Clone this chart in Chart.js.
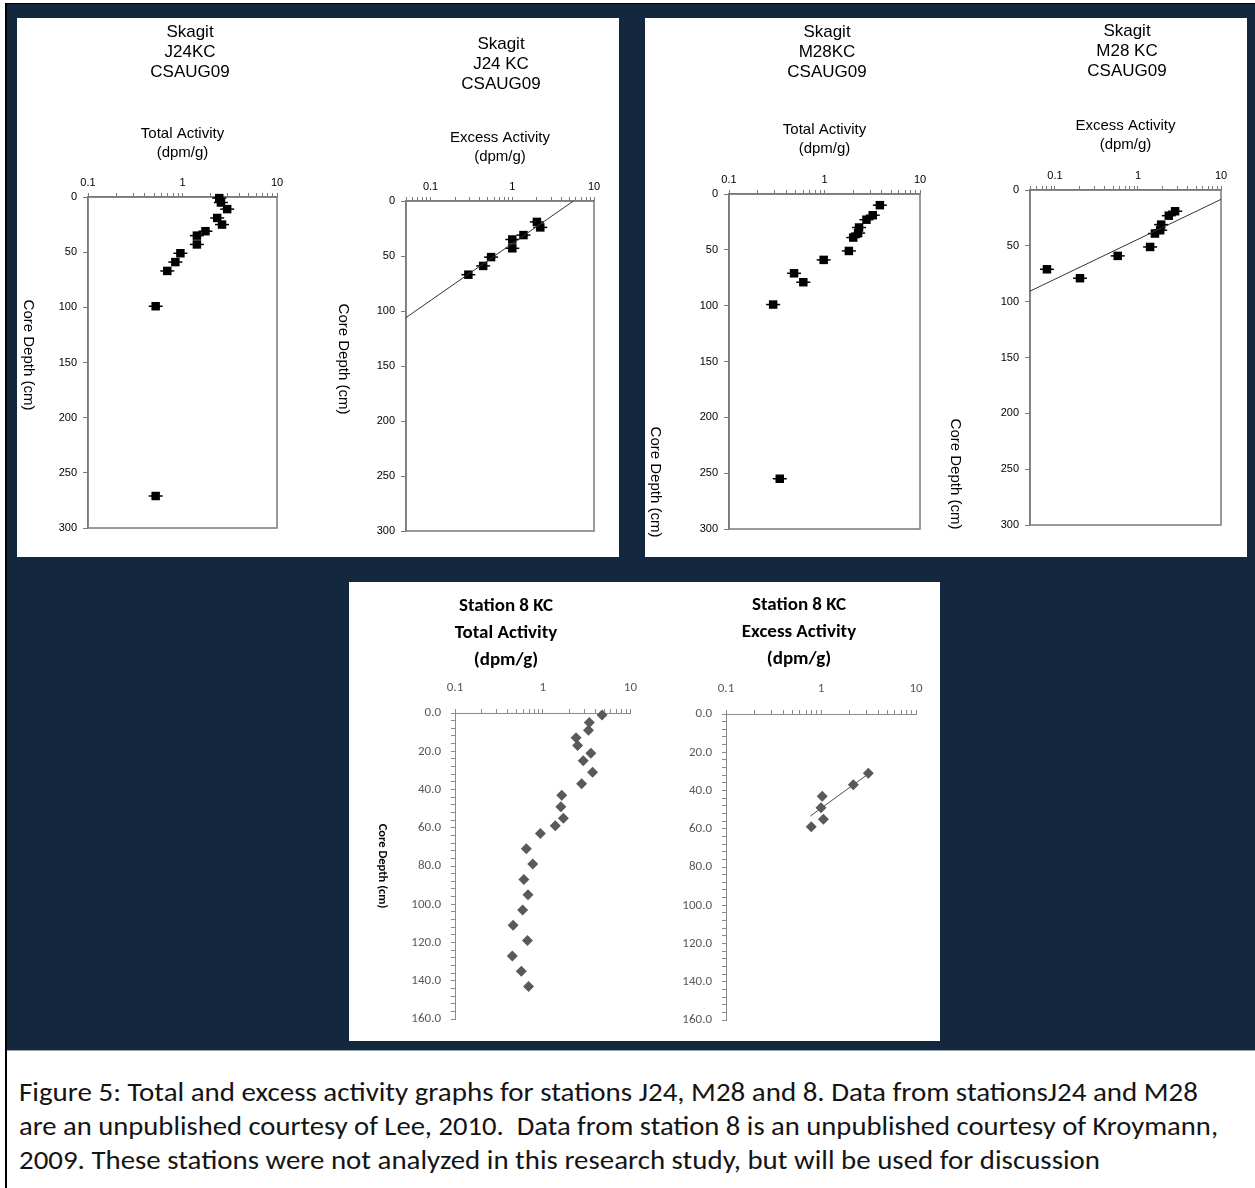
<!DOCTYPE html>
<html>
<head>
<meta charset="utf-8">
<title>Figure 5</title>
<script src="https://cdn.jsdelivr.net/npm/chart.js@4.4.1/dist/chart.umd.min.js"></script>
<style>
  body { margin: 0; width: 1255px; height: 1188px; position: relative; background: #fff; overflow: hidden; }
  .abs { position: absolute; }
  #navy { left: 7px; top: 4px; width: 1248px; height: 1046px; background: #13273f; }
  #topline { left: 5px; top: 3px; width: 1250px; height: 1px; background: #000; }
  #leftline { left: 5px; top: 3px; width: 2px; height: 1185px; background: #000; }
  #navyedge { left: 7px; top: 1050px; width: 1248px; height: 1px; background: #9aa3ad; }
  .panel { background: #fff; }
  canvas { position: absolute; }
  #caption { left: 19px; top: 1075px; font-family: Carlito, Lato, sans-serif; font-size: 26px; line-height: 34px;
             color: #141414; white-space: nowrap; }
  #caption span { display: inline-block; transform-origin: 0 0; }
</style>
</head>
<body>
<div id="navy" class="abs"></div>
<div id="navyedge" class="abs"></div>
<div id="topline" class="abs"></div>
<div id="leftline" class="abs"></div>
<div class="abs panel" style="left:17px;top:18px;width:602px;height:539px"></div>
<div class="abs panel" style="left:645px;top:18px;width:602px;height:539px"></div>
<div class="abs panel" style="left:349px;top:582px;width:591px;height:459px"></div>

<canvas id="c1" width="300" height="539" style="left:17px;top:18px"></canvas>
<canvas id="c2" width="302" height="539" style="left:317px;top:18px"></canvas>
<canvas id="c3" width="300" height="539" style="left:645px;top:18px"></canvas>
<canvas id="c4" width="302" height="539" style="left:945px;top:18px"></canvas>
<canvas id="c5" width="301" height="458" style="left:349px;top:582px"></canvas>
<canvas id="c6" width="289" height="458" style="left:650px;top:582px"></canvas>

<div id="caption" class="abs">
  <span data-w="1179">Figure 5: Total and excess activity graphs for stations J24, M28 and 8. Data from stationsJ24 and M28</span><br>
  <span data-w="1199">are an unpublished courtesy of Lee, 2010.&nbsp; Data from station 8 is an unpublished courtesy of Kroymann,</span><br>
  <span data-w="1081">2009. These stations were not analyzed in this research study, but will be used for discussion</span>
</div>

<script>
// ---- data ----
// log axis tick positions (only decades get a label)
const logTickValues = [0.05, 0.06, 0.07, 0.08, 0.09, 0.1, 0.2, 0.3, 0.4, 0.5, 0.6, 0.7, 0.8, 0.9,
                       1, 2, 3, 4, 5, 6, 7, 8, 9, 10];
const decadeLabels = { 0.1: '0.1', 1: '1', 10: '10' };

// Skagit J24KC
const j24TotalActivity = [2.45, 2.55, 2.97, 2.33, 2.62, 1.75, 1.42, 1.42, 0.95, 0.84, 0.69, 0.52, 0.52];
const j24TotalDepth    = [1, 5, 11, 19, 25, 31, 35, 43, 51, 59, 67, 99, 271];
const j24ExcessActivity = [2.0, 2.2, 1.37, 1.0, 1.0, 0.55, 0.44, 0.29];
const j24ExcessDepth    = [19, 24, 31, 35, 43, 51, 59, 67];
const j24TrendActivity = [5.6, 0.05];
const j24TrendDepth    = [0, 106];

// Skagit M28KC
const m28TotalActivity = [3.8, 3.2, 2.75, 2.3, 2.25, 2.0, 1.8, 0.98, 0.48, 0.6, 0.29, 0.34];
const m28TotalDepth    = [10, 19, 23, 30, 35, 39, 51, 59, 71, 79, 99, 255];
const m28ExcessActivity = [2.8, 2.35, 1.9, 1.85, 1.6, 1.4, 0.57, 0.08, 0.2];
const m28ExcessDepth    = [19, 23, 31, 36, 39, 51, 59, 71, 79];
const m28TrendActivity = [0.05, 10];
const m28TrendDepth    = [90.6, 8.4];

// Station 8 KC
const st8TotalDepth    = [1, 5, 9, 13, 17, 21, 25, 31, 37, 43, 49, 55, 59, 63, 71, 79, 87, 95, 103, 111, 119, 127, 135, 143];
const st8TotalActivity = [4.75, 3.4, 3.33, 2.4, 2.5, 3.54, 2.9, 3.7, 2.78, 1.65, 1.61, 1.72, 1.39, 0.94,
                          0.65, 0.77, 0.61, 0.68, 0.59, 0.46, 0.67, 0.45, 0.57, 0.69];
const st8ExcessDepth    = [31, 37, 43, 49, 55, 59];
const st8ExcessActivity = [3.15, 2.19, 1.03, 1.0, 1.06, 0.79];
const st8TrendActivity = [0.77, 3.15];
const st8TrendDepth    = [53.4, 31.3];

// ---- styling ----
const SK_FONT = "'Liberation Sans', Arial, sans-serif";
const CAL_FONT = "Carlito, Lato, sans-serif";
const SK_LINE = '#7a7a7a';
const ST_LINE = '#8a8a8a';
const ST_MARK = '#595959';

function pts(xs, ys) {
  return xs.map((x, i) => ({ x: x, y: ys[i] }));
}

/* heading + rotated y title, drawn on the chart canvas */
function textPlugin(spec) {
  return {
    id: 'panelText',
    afterDraw(chart) {
      const ctx = chart.ctx;
      ctx.save();
      ctx.fillStyle = '#000';
      ctx.textAlign = 'center';
      ctx.textBaseline = 'middle';
      ctx.font = spec.headFont;
      spec.head.forEach((line, i) => ctx.fillText(line, spec.headX, spec.headY + i * spec.headStep));
      if (spec.yTitle) {
        ctx.translate(spec.yX, spec.yY);
        ctx.rotate(Math.PI / 2);
        ctx.font = spec.yFont;
        ctx.fillText(spec.yTitle, 0, 0);
      }
      ctx.restore();
    }
  };
}

/* plot frame for the Skagit charts */
const framePlugin = {
  id: 'frame',
  beforeDatasetsDraw(chart) {
    const { ctx, chartArea: a } = chart;
    ctx.save();
    ctx.strokeStyle = SK_LINE;
    ctx.lineWidth = 1.5;
    ctx.strokeRect(a.left, a.top, a.right - a.left, a.bottom - a.top);
    ctx.restore();
  }
};

function logAxis(o) {
  return {
    type: 'logarithmic', position: 'top', min: o.min, max: 10,
    afterBuildTicks: s => {
      s.ticks = logTickValues.filter(v => v >= s.min * 0.999 && v <= s.max * 1.001)
        .map(v => ({ value: v, major: v in decadeLabels }));
    },
    afterFit: s => { s.height = o.height; },
    ticks: { autoSkip: false, maxRotation: 0, minRotation: 0, padding: o.tickPad,
             color: o.tickColor, font: o.tickFont, callback: v => decadeLabels[v] || '' },
    grid: { drawOnChartArea: false, drawTicks: true, tickLength: 4, color: o.lineColor, lineWidth: 1 },
    border: { display: true, color: o.lineColor, width: o.lineWidth },
    title: o.title
      ? { display: true, text: o.title, color: '#000', font: { family: SK_FONT, size: 15, lineHeight: 1.27 },
          padding: { top: o.titlePad, bottom: 0 } }
      : { display: false }
  };
}

function depthAxis(o) {
  return {
    type: 'linear', reverse: true, min: 0, max: o.max,
    afterFit: s => { s.width = o.width; },
    ticks: { stepSize: o.step, autoSkip: false, padding: o.tickPad, color: o.tickColor,
             font: o.tickFont, callback: o.callback },
    grid: { drawOnChartArea: false, tickLength: o.tickLen, color: o.lineColor },
    border: { display: true, color: o.lineColor, width: o.lineWidth }
  };
}

function skagitChart(id, g, sets, trend) {
  const datasets = [
    { data: sets, pointStyle: 'line', pointRadius: 7, borderColor: '#000', borderWidth: 1.5, clip: false },
    { data: sets, pointStyle: 'rect', pointRadius: 6, backgroundColor: '#000', borderColor: '#000', borderWidth: 0, clip: false }
  ];
  if (trend) {
    datasets.unshift({ data: trend, showLine: true, pointRadius: 0, borderColor: '#333', borderWidth: 1 });
  }
  return new Chart(document.getElementById(id), {
    type: 'scatter',
    data: { datasets: datasets },
    options: {
      responsive: false, animation: false, devicePixelRatio: 1,
      layout: { padding: { left: 0, top: 0, right: g.padR, bottom: g.padB } },
      plugins: { legend: { display: false }, tooltip: { enabled: false } },
      scales: {
        x: logAxis({ min: g.xmin, height: g.top, tickPad: 3, tickColor: '#000',
                     tickFont: { family: SK_FONT, size: 11 }, lineColor: SK_LINE, lineWidth: 1.5,
                     title: g.xTitle, titlePad: g.xTitlePad }),
        y: depthAxis({ max: 300, step: 50, width: g.left, tickPad: 6, tickLen: 5, tickColor: '#000',
                       tickFont: { family: SK_FONT, size: 11 }, lineColor: SK_LINE, lineWidth: 1.5,
                       callback: v => String(v) })
      }
    },
    plugins: [framePlugin, textPlugin({
      head: g.head, headFont: '17px ' + SK_FONT, headX: g.headX, headY: g.headY, headStep: 20,
      yTitle: 'Core Depth (cm)', yFont: '15px ' + SK_FONT, yX: g.yX, yY: g.yY
    })]
  });
}

function stationChart(id, g, sets, trend) {
  const datasets = [
    { data: sets, pointStyle: 'rectRot', pointRadius: 5.5, backgroundColor: ST_MARK, borderColor: ST_MARK, borderWidth: 0, clip: false }
  ];
  if (trend) {
    datasets.push({ data: trend, showLine: true, pointRadius: 0, borderColor: '#4d4d4d', borderWidth: 1 });
  }
  return new Chart(document.getElementById(id), {
    type: 'scatter',
    data: { datasets: datasets },
    options: {
      responsive: false, animation: false, devicePixelRatio: 1,
      layout: { padding: { left: 0, top: 0, right: g.padR, bottom: g.padB } },
      plugins: { legend: { display: false }, tooltip: { enabled: false } },
      scales: {
        x: logAxis({ min: 0.1, height: g.top, tickPad: 13, tickColor: ST_MARK,
                     tickFont: { family: CAL_FONT, size: 13 }, lineColor: ST_LINE, lineWidth: 1 }),
        y: depthAxis({ max: 160, step: 4, width: g.left, tickPad: 10, tickLen: 4, tickColor: ST_MARK,
                       tickFont: { family: CAL_FONT, size: 13 }, lineColor: ST_LINE, lineWidth: 1,
                       callback: v => (v % 20 === 0 ? v.toFixed(1) : '') })
      }
    },
    plugins: [textPlugin({
      head: g.head, headFont: 'bold 19px ' + CAL_FONT, headX: g.headX, headY: g.headY, headStep: 27,
      yTitle: g.yTitle, yFont: 'bold 12.5px ' + CAL_FONT, yX: g.yX, yY: g.yY
    })]
  });
}

skagitChart('c1', { left: 71, top: 179, padR: 40, padB: 29, xmin: 0.1,
  xTitle: ['Total Activity', '(dpm/g)'], xTitlePad: 106,
  head: ['Skagit', 'J24KC', 'CSAUG09'], headX: 173, headY: 14, yX: 11, yY: 337 },
  pts(j24TotalActivity, j24TotalDepth));

skagitChart('c2', { left: 89, top: 183, padR: 25, padB: 26, xmin: 0.05,
  xTitle: ['Excess Activity', '(dpm/g)'], xTitlePad: 110,
  head: ['Skagit', 'J24 KC', 'CSAUG09'], headX: 184, headY: 26, yX: 26, yY: 341 },
  pts(j24ExcessActivity, j24ExcessDepth), pts(j24TrendActivity, j24TrendDepth));

skagitChart('c3', { left: 84, top: 176, padR: 25, padB: 28, xmin: 0.1,
  xTitle: ['Total Activity', '(dpm/g)'], xTitlePad: 102,
  head: ['Skagit', 'M28KC', 'CSAUG09'], headX: 182, headY: 14, yX: 10, yY: 464 },
  pts(m28TotalActivity, m28TotalDepth));

skagitChart('c4', { left: 85, top: 172, padR: 26, padB: 32, xmin: 0.05,
  xTitle: ['Excess Activity', '(dpm/g)'], xTitlePad: 98,
  head: ['Skagit', 'M28 KC', 'CSAUG09'], headX: 182, headY: 13, yX: 10, yY: 456 },
  pts(m28ExcessActivity, m28ExcessDepth), pts(m28TrendActivity, m28TrendDepth));

stationChart('c5', { left: 106, top: 131, padR: 18, padB: 21,
  head: ['Station 8 KC', 'Total Activity', '(dpm/g)'], headX: 157, headY: 24,
  yTitle: 'Core Depth (cm)', yX: 33, yY: 284 },
  pts(st8TotalActivity, st8TotalDepth));

stationChart('c6', { left: 76, top: 132, padR: 23, padB: 20,
  head: ['Station 8 KC', 'Excess Activity', '(dpm/g)'], headX: 149, headY: 23 },
  pts(st8ExcessActivity, st8ExcessDepth), pts(st8TrendActivity, st8TrendDepth));

// squeeze each caption line to the width it has in the original
document.querySelectorAll('#caption span').forEach(function (s) {
  const w = s.getBoundingClientRect().width;
  s.style.transform = 'scaleX(' + (Number(s.dataset.w) / w).toFixed(4) + ')';
});
</script>
</body>
</html>
